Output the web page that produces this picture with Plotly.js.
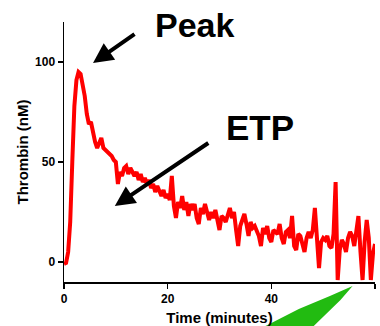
<!DOCTYPE html>
<html>
<head>
<meta charset="utf-8">
<script src="https://cdn.plot.ly/plotly-3.0.1.min.js"></script>
<style>html,body{margin:0;padding:0;background:#fff;}#chart{width:380px;height:326px;}</style>
</head>
<body>
<div id="chart"></div>
<script>
const timeMin = [0,0.4,0.8,1.2,1.6,2,2.4,2.8,3.2,3.6,4,4.4,4.8,5.2,5.6,6,6.4,6.8,7.2,7.6,8,8.4,8.8,9.2,9.6,10,10.4,10.8,11.2,11.6,12,12.4,12.8,13.2,13.6,14,14.4,14.8,15.2,15.6,16,16.4,16.8,17.2,17.6,18,18.4,18.8,19.2,19.6,20,20.4,20.8,21.2,21.6,22,22.4,22.8,23.2,23.6,24,24.4,24.8,25.2,25.6,26,26.4,26.8,27.2,27.6,28,28.4,28.8,29.2,29.6,30,30.4,30.8,31.2,31.6,32,32.4,32.8,33.2,33.6,34,34.4,34.8,35.2,35.6,36,36.4,36.8,37.2,37.6,38,38.4,38.8,39.2,39.6,40,40.4,40.8,41.2,41.6,42,42.4,42.8,43.2,43.6,44,44.4,44.8,45.2,45.6,46,46.4,46.8,47.2,47.6,48,48.4,48.8,49.2,49.6,50,50.4,50.8,51.2,51.6,52,52.4,52.8,53.2,53.6,54,54.4,54.8,55.2,55.6,56,56.4,56.8,57.2,57.6,58,58.4,58.8,59.2,59.6,60];
const thrombinNM = [-1,-0.5,5,20,50,78,91,95,94,89,83,74,69,70,64,60,57,60,62,57,56,55,54,53,51,50,39,45,43,47,48,44,47,45,43,45,41,44,40,42,39,41,37,39,35,38,35,33,36,32,34,31,43,28,22,30,27,33,26,30,23,29,26,29,22,19,27,24,29,24,21,25,22,26,20,16,23,22,20,24,27,22,25,16,8,18,21,24,19,13,20,17,18,16,13,8,17,14,18,12,10,16,15,14,19,12,9,15,16,12,23,8,6,14,13,9,5,12,15,12,16,27,8,-3,10,12,11,13,8,7,14,40,-9,6,11,9,5,12,15,13,8,15,23,5,-9,10,21,12,-9,4,9];
const xTicks = [0,20,40,60];
const yTicks = [0,50,100];

const fontFam = 'Liberation Sans, Arial, Helvetica, sans-serif';

const trace = {
  x: timeMin, y: thrombinNM, type: 'scatter', mode: 'lines',
  line: {color: '#ff0000', width: 4}, hoverinfo: 'skip'
};

const layout = {
  width: 380, height: 326,
  margin: {l: 64, r: 5, t: 22, b: 44, pad: 0},
  paper_bgcolor: '#fff', plot_bgcolor: '#fff',
  showlegend: false,
  font: {family: fontFam, color: '#000'},
  xaxis: {
    range: [0, 60], tickvals: xTicks, ticktext: xTicks.map(String),
    showgrid: false, zeroline: false, showline: true, linecolor: '#000', linewidth: 1.5,
    ticks: 'outside', ticklen: 5, tickwidth: 1.5, tickcolor: '#000',
    tickfont: {size: 12, weight: 'bold', family: fontFam},
    title: {text: '<b>Time (minutes)</b>', font: {size: 15, family: fontFam}, standoff: 8}
  },
  yaxis: {
    range: [-10, 120], tickvals: yTicks, ticktext: yTicks.map(String),
    showgrid: false, zeroline: false, showline: true, linecolor: '#000', linewidth: 1.5,
    ticks: 'outside', ticklen: 5, tickwidth: 1.5, tickcolor: '#000',
    tickfont: {size: 12, weight: 'bold', family: fontFam},
    title: {text: '<b>Thrombin (nM)</b>', font: {size: 15, family: fontFam}, standoff: 3}
  },
  annotations: [
    {xref: 'paper', yref: 'paper', x: 0.285, y: 0.987, xanchor: 'left', yanchor: 'middle',
     text: '<b>Peak</b>', showarrow: false, font: {size: 34, family: fontFam, color: '#000'}},
    {xref: 'paper', yref: 'paper', x: 0.513, y: 0.594, xanchor: 'left', yanchor: 'middle',
     text: '<b>ETP</b>', showarrow: false, font: {size: 35, family: fontFam, color: '#000'}},
    {x: 5.6, y: 99.5, ax: 43, ay: -30, text: ' ', font: {size: 1},
     showarrow: true, arrowhead: 2, arrowsize: 1, arrowwidth: 4, arrowcolor: '#000', standoff: 0},
    {x: 9.8, y: 28, ax: 95, ay: -64, text: ' ', font: {size: 1},
     showarrow: true, arrowhead: 2, arrowsize: 1, arrowwidth: 4, arrowcolor: '#000', standoff: 0}
  ],
  shapes: [
    {type: 'path', xref: 'paper', yref: 'paper', layer: 'above',
     path: 'M 0.928 -0.015 L 0.855 -0.054 L 0.755 -0.104 L 0.648 -0.169 L 0.803 -0.169 L 0.889 -0.069 Z',
     fillcolor: '#22bb11', line: {width: 0}},
    {type: 'circle', xref: 'paper', yref: 'paper', layer: 'above',
     x0: 0.285, x1: 0.335, y0: 1.088, y1: 1.2, line: {color: '#d0d0d0', width: 1.5}}
  ]
};

Plotly.newPlot('chart', [trace], layout, {staticPlot: true, displayModeBar: false});
</script>
</body>
</html>
